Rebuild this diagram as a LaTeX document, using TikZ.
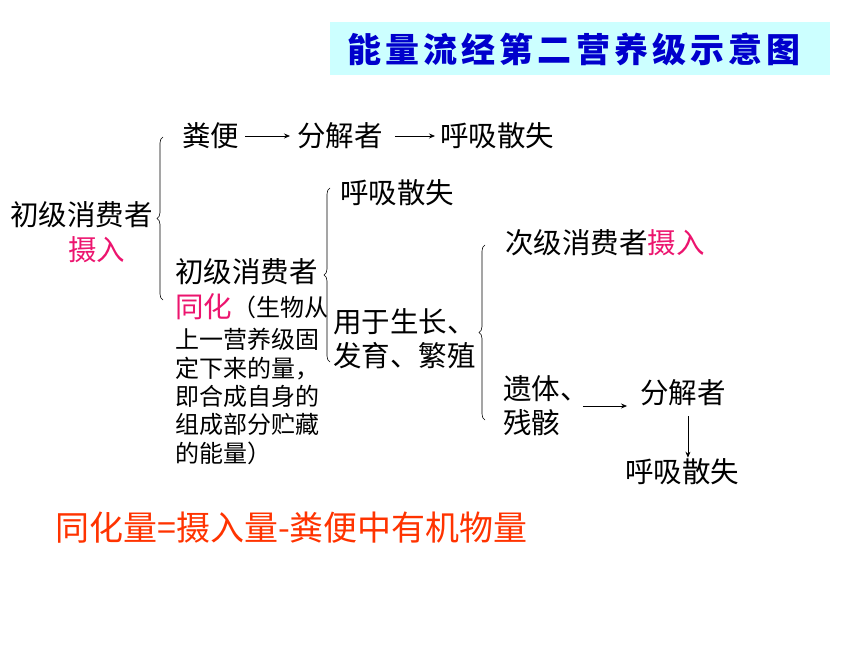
\documentclass[tikz,border=0pt]{standalone}
\usepackage{fontspec}
\setmainfont{Noto Sans CJK SC}
\newfontfamily\titlefont[LetterSpace=12]{Noto Sans CJK SC}
\usetikzlibrary{decorations.pathreplacing,arrows.meta}
\definecolor{pinkred}{RGB}{236,20,110}
\definecolor{formred}{RGB}{255,51,0}
\definecolor{titleblue}{RGB}{0,0,204}
\definecolor{titlebg}{RGB}{204,255,255}
\tikzset{
	txt/.style={anchor=west, inner sep=0pt, font=\fontsize{28.5}{34}\selectfont},
	note/.style={anchor=west, inner sep=0pt, align=left, font=\fontsize{24}{28.3}\selectfont},
	arr/.style={line width=0.7pt, -{Stealth[length=6pt,width=5pt]}},
	brc/.style={decorate, decoration={brace, amplitude=6pt}, line width=0.6pt},
}

\begin{document}
\begin{tikzpicture}[x=1pt, y=-1pt]
			%%%%% START %%%%%
			\useasboundingbox (0, 0) rectangle (860, 645);
			
			\fill[titlebg] (330, 22) rectangle (830, 75);
			\node[inner sep=0pt, text=titleblue, font=\titlefont\bfseries\fontsize{34}{34}\selectfont] (title) at (574, 49) {能量流经第二营养级示意图};
			
			\node[txt] (fenbian) at (182, 136) {粪便};
			\node[txt] (fenjie1) at (297, 136) {分解者};
			\node[txt] (huxi1) at (440, 136) {呼吸散失};
			\draw[arr, shorten <=6pt, shorten >=7pt] (fenbian) -- (fenjie1);
			\draw[arr, shorten <=12pt, shorten >=5pt] (fenjie1) -- (huxi1);
			
			\node[txt] (chuji1) at (10, 215) {初级消费者};
			\node[txt, text=pinkred] (sheru1) at (68, 250) {摄入};
			\draw[brc] (163, 300) -- (163, 137);
			
			\node[txt] (chuji2) at (175, 272) {初级消费者};
			\node[txt, text=pinkred] (tonghua) at (175, 307) {同化};
			\node[note] (note1) at (tonghua.east) {（生物从};
			\node[note] (note2) at (175, 396.5) {上一营养级固\\定下来的量，\\即合成自身的\\组成部分贮藏\\的能量）};
			
			\draw[brc] (330, 362) -- (330, 188);
			\node[txt] (huxi2) at (340, 193) {呼吸散失};
			\node[txt, align=left] (yongyu) at (333, 339) {用于生长、\\发育、繁殖};
			
			\draw[brc] (485, 420) -- (485, 245);
			\node[txt] (ciji) at (505, 243) {次级消费者\textcolor{pinkred}{摄入}};
			\node[txt, align=left] (yiti) at (503, 406) {遗体、\\残骸};
			\node[txt] (fenjie2) at (640, 393) {分解者};
			\node[txt] (huxi3) at (625, 472) {呼吸散失};
			\draw[arr, shorten <=-6pt, shorten >=13pt] (yiti.east) -- (yiti.east -| fenjie2.west);
			\draw[arr, shorten <=10pt, shorten >=1pt] ([xshift=5pt]fenjie2.south) -- ([xshift=5pt]fenjie2.south |- huxi3.north);
			
			\node[anchor=west, inner sep=0pt, text=formred, font=\fontsize{34}{34}\selectfont] (formula) at (55, 528) {同化量=摄入量-粪便中有机物量};
			
			%%%%% END %%%%%
		\end{tikzpicture}
\end{document}
